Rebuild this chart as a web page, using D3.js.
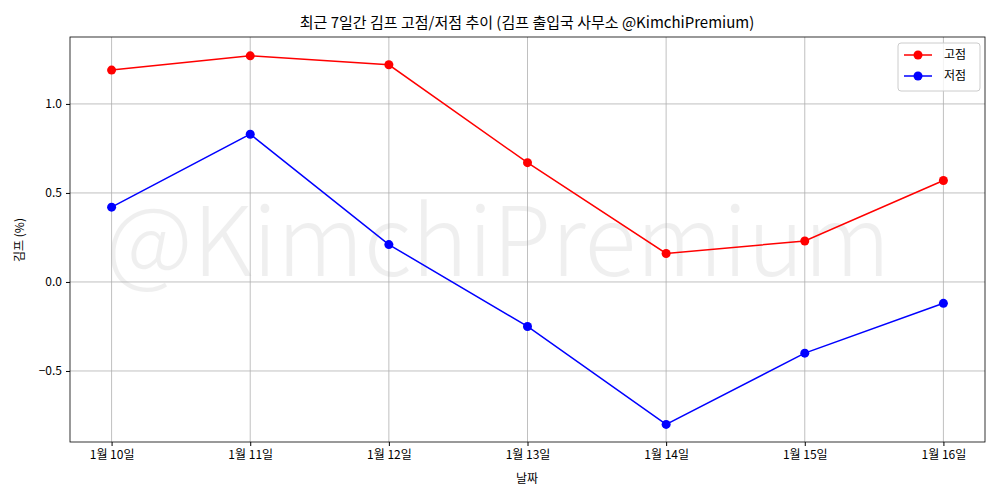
<!DOCTYPE html>
<html><head><meta charset="utf-8">
<script src="https://cdn.jsdelivr.net/npm/d3@7"></script>
<style>body{margin:0;background:#fff}text{font-family:"Noto Sans CJK KR","Noto Sans",sans-serif}</style>
</head><body><svg id="c" width="1000" height="500"></svg>
<script>
const dates=["1월 10일","1월 11일","1월 12일","1월 13일","1월 14일","1월 15일","1월 16일"];
const highVals=[1.19,1.27,1.22,0.67,0.16,0.23,0.57];
const lowVals=[0.42,0.83,0.21,-0.25,-0.80,-0.40,-0.12];
const yTicks=[-0.5,0.0,0.5,1.0];
const svg=d3.select("#c");
const L=70,R=985,T=37,B=442;
const x=d3.scaleLinear().domain([-0.3,6.3]).range([L,R]);
const y=d3.scaleLinear().domain([-0.899,1.376]).range([B,T]);
svg.append("text").attr("x",498).attr("y",250).attr("text-anchor","middle").attr("dominant-baseline","middle")
 .attr("font-size",96).attr("font-weight",300).attr("fill","#000").attr("opacity",0.06).attr("textLength",785).attr("lengthAdjust","spacingAndGlyphs").text("@KimchiPremium");
const g=svg.append("g");
dates.forEach((d,i)=>g.append("line").attr("x1",x(i)).attr("x2",x(i)).attr("y1",T).attr("y2",B).attr("stroke","#b0b0b0").attr("stroke-width",0.8));
yTicks.forEach(v=>g.append("line").attr("x1",L).attr("x2",R).attr("y1",y(v)).attr("y2",y(v)).attr("stroke","#b0b0b0").attr("stroke-width",0.8));
svg.append("g").attr("transform",`translate(0,${B})`).call(d3.axisBottom(x).tickValues(d3.range(7)).tickFormat(i=>dates[i]).tickSize(4).tickPadding(4))
 .call(a=>{a.select(".domain").remove();a.selectAll("text").attr("font-size",12).attr("fill","#000");});
svg.append("g").attr("transform",`translate(${L},0)`).call(d3.axisLeft(y).tickValues(yTicks).tickFormat(d3.format(".1f")).tickSize(4).tickPadding(4))
 .call(a=>{a.select(".domain").remove();a.selectAll("text").attr("font-size",12).attr("fill","#000");});
svg.append("rect").attr("x",L).attr("y",T).attr("width",R-L).attr("height",B-T).attr("fill","none").attr("stroke","#000").attr("stroke-width",0.8);
const line=d3.line().x((d,i)=>x(i)).y(d=>y(d));
[[highVals,"red"],[lowVals,"blue"]].forEach(([vals,c])=>{
 svg.append("path").attr("d",line(vals)).attr("fill","none").attr("stroke",c).attr("stroke-width",1.5);
 svg.selectAll(null).data(vals).enter().append("circle").attr("cx",(d,i)=>x(i)).attr("cy",d=>y(d)).attr("r",4.5).attr("fill",c);
});
svg.append("text").attr("x",527).attr("y",28).attr("text-anchor","middle").attr("font-size",15).text("최근 7일간 김프 고점/저점 추이 (김프 출입국 사무소 @KimchiPremium)");
svg.append("text").attr("x",527).attr("y",483).attr("text-anchor","middle").attr("font-size",12).text("날짜");
svg.append("text").attr("transform","translate(24,240) rotate(-90)").attr("text-anchor","middle").attr("font-size",12).text("김프 (%)");
const lg=svg.append("g").attr("transform","translate(898,43)");
lg.append("rect").attr("width",82).attr("height",48).attr("rx",3).attr("fill","#fff").attr("fill-opacity",0.8).attr("stroke","#ccc");
[["고점","red"],["저점","blue"]].forEach(([t,c],i)=>{
 const yy=12+i*21;
 lg.append("line").attr("x1",6).attr("x2",34).attr("y1",yy).attr("y2",yy).attr("stroke",c).attr("stroke-width",1.5);
 lg.append("circle").attr("cx",20).attr("cy",yy).attr("r",4.5).attr("fill",c);
 lg.append("text").attr("x",46).attr("y",yy+4).attr("font-size",12).text(t);
});
</script></body></html>
